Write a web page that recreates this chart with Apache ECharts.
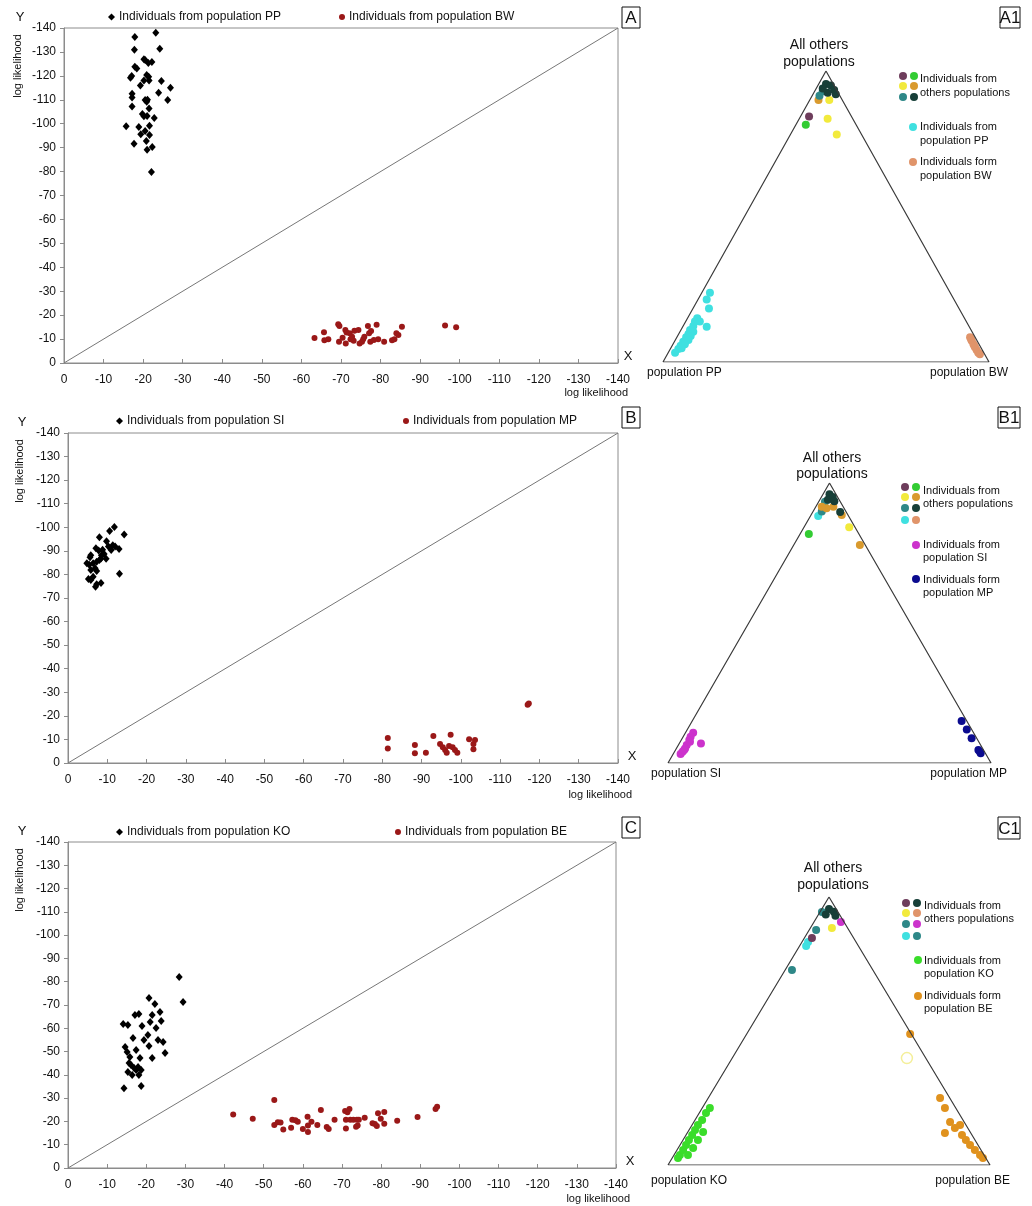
<!DOCTYPE html>
<html>
<head>
<meta charset="utf-8">
<script src="https://cdn.jsdelivr.net/npm/echarts@6/dist/echarts.min.js"></script>
<style>html,body{margin:0;background:#fff}#eCharts{width:1032px;height:1206px}</style>
</head>
<body>
<div id="eCharts"></div>
<script>
// scatter panels: [x, y] log likelihood values
var ppPoints = [[-23.2,-138.0],[-17.9,-136.2],[-24.2,-131.3],[-17.8,-130.9],[-20.2,-126.9],[-20.5,-126.6],
  [-21.3,-125.4],[-22.2,-125.8],[-17.9,-123.8],[-18.4,-123.1],[-16.8,-119.2],[-17.1,-119.9],[-20.9,-120.4],
  [-21.4,-119.6],[-20.2,-118.1],[-21.5,-118.1],[-24.6,-117.8],[-19.3,-116.0],[-26.9,-115.0],[-17.2,-112.5],
  [-17.2,-111.0],[-23.9,-112.9],[-20.5,-109.9],[-21.1,-110.0],[-20.9,-109.2],[-26.2,-109.9],[-17.2,-107.2],
  [-21.5,-106.4],[-19.8,-104.1],[-20.2,-103.1],[-21.0,-103.2],[-22.8,-102.4],[-15.7,-98.9],[-18.9,-98.6],
  [-21.6,-99.2],[-20.5,-97.0],[-19.4,-95.6],[-21.6,-95.3],[-17.7,-91.6],[-20.8,-92.8],[-21.0,-89.1],
  [-22.3,-90.3],[-22.1,-79.8]];
var bwPoints = [[-63.3,-10.4],[-65.7,-12.8],[-65.8,-9.5],[-66.8,-9.9],[-69.3,-16.2],[-69.6,-15.5],[-69.5,-8.9],
  [-70.4,-10.6],[-71.1,-13.8],[-71.4,-12.7],[-71.2,-8.2],[-72.2,-12.4],[-72.4,-9.9],[-72.8,-11.0],[-73.4,-13.5],
  [-74.4,-13.8],[-73.2,-9.3],[-74.7,-8.2],[-75.3,-8.9],[-75.6,-9.9],[-75.9,-11.0],[-76.8,-15.5],[-77.1,-12.4],
  [-77.6,-13.4],[-77.4,-8.9],[-78.3,-9.6],[-79.4,-9.9],[-79.0,-16.0],[-80.9,-8.9],[-82.9,-9.5],[-83.5,-9.9],
  [-84.0,-12.4],[-84.5,-11.7],[-85.4,-15.2],[-96.3,-15.7],[-99.1,-14.9]];
var siPoints = [[-11.8,-100.1],[-10.6,-98.4],[-14.3,-96.9],[-8.0,-95.8],[-9.8,-94.1],[-7.1,-91.1],[-7.8,-90.1],
  [-8.8,-90.5],[-10.3,-91.8],[-11.4,-92.4],[-12.0,-91.8],[-13.0,-90.8],[-11.0,-90.4],[-5.8,-88.1],[-5.6,-87.3],
  [-8.5,-88.1],[-9.7,-86.7],[-9.2,-88.7],[-4.8,-84.7],[-5.4,-84.1],[-6.4,-84.7],[-7.3,-85.4],[-8.0,-86.1],
  [-8.4,-86.8],[-5.8,-81.9],[-6.9,-82.6],[-7.3,-81.5],[-13.1,-80.3],[-5.2,-78.1],[-5.8,-77.6],[-6.4,-79.0],
  [-7.0,-74.8],[-7.3,-75.8],[-8.4,-76.4]];
var mpPoints = [[-117.0,-24.7],[-117.3,-25.2],[-81.4,-10.6],[-81.4,-6.1],[-88.3,-7.6],[-88.3,-4.1],[-91.1,-4.4],
  [-93.0,-11.5],[-97.4,-12.0],[-94.7,-8.1],[-95.4,-6.7],[-96.0,-5.5],[-96.4,-4.4],[-97.0,-7.2],[-97.9,-6.7],
  [-98.5,-5.5],[-99.1,-4.4],[-102.1,-10.1],[-103.2,-8.1],[-103.6,-9.8],[-103.2,-5.8]];
var koPoints = [[-28.4,-82.0],[-29.4,-71.3],[-20.7,-73.0],[-22.2,-70.4],[-17.1,-65.7],[-18.1,-66.1],[-21.5,-65.7],
  [-23.5,-67.0],[-14.1,-61.8],[-15.3,-61.4],[-18.9,-61.0],[-21.0,-62.7],[-22.5,-60.1],[-23.8,-63.1],[-16.6,-55.8],
  [-19.4,-55.0],[-20.4,-57.1],[-23.0,-55.0],[-24.3,-54.1],[-24.8,-49.4],[-14.6,-52.0],[-15.1,-49.8],[-15.8,-47.7],
  [-17.4,-50.7],[-18.4,-47.2],[-20.7,-52.4],[-21.5,-47.2],[-15.6,-45.1],[-16.1,-44.2],[-16.9,-42.9],[-17.4,-42.1],
  [-17.9,-43.4],[-18.7,-42.1],[-15.3,-41.2],[-16.4,-39.9],[-18.1,-39.9],[-14.3,-34.3],[-18.7,-35.2]];
var bePoints = [[-42.2,-23.0],[-47.2,-21.2],[-52.7,-29.2],[-52.7,-18.5],[-53.6,-19.6],[-54.3,-19.5],[-55.0,-16.5],
  [-57.0,-17.3],[-57.3,-20.7],[-58.1,-20.5],[-58.7,-19.9],[-60.0,-16.7],[-61.2,-22.0],[-61.3,-18.3],[-61.3,-15.5],
  [-62.2,-19.9],[-63.7,-18.5],[-64.6,-24.9],[-66.1,-17.6],[-66.6,-16.7],[-68.1,-20.7],[-70.8,-24.5],[-71.4,-23.9],
  [-71.9,-25.3],[-71.0,-20.7],[-72.1,-20.7],[-72.9,-20.7],[-73.8,-20.7],[-74.3,-20.7],[-71.0,-17.0],[-73.6,-17.7],
  [-74.0,-18.3],[-75.8,-21.6],[-77.8,-19.2],[-78.4,-18.9],[-78.9,-18.0],[-79.2,-23.5],[-80.8,-24.0],[-79.9,-21.2],
  [-80.8,-19.0],[-84.1,-20.3],[-89.3,-21.9],[-93.9,-25.3],[-94.3,-26.3]];
var axisTicks = [-140, 0, 10];  // min, max, interval

// ternary panels: [position along base, height], 0..1 inside the triangle
var a1Dark = [[0.50,0.955],[0.515,0.95],[0.525,0.935],[0.505,0.925],[0.53,0.92],[0.49,0.94]];
var a1Teal = [[0.49,0.93],[0.48,0.915]];
var a1Orange = [[0.477,0.90]];
var a1Yellow = [[0.51,0.90],[0.505,0.836],[0.533,0.782]];
var a1Purple = [[0.448,0.844]];
var a1Green = [[0.438,0.815]];
var a1PP = [[0.144,0.238],[0.134,0.215],[0.141,0.184],[0.105,0.150],[0.098,0.139],[0.093,0.124],[0.083,0.110],
  [0.078,0.096],[0.071,0.085],[0.062,0.070],[0.054,0.056],[0.047,0.045],[0.037,0.032],[0.093,0.104],[0.085,0.089],
  [0.078,0.076],[0.067,0.061],[0.057,0.047],[0.113,0.139],[0.134,0.121]];
var a1BW = [[0.942,0.085],[0.947,0.073],[0.952,0.062],[0.957,0.051],[0.962,0.041],[0.967,0.032],[0.972,0.027],
  [0.945,0.078],[0.955,0.056]];

var b1Dark = [[0.50,0.96],[0.51,0.95],[0.495,0.94],[0.515,0.935],[0.533,0.896]];
var b1Orange = [[0.512,0.915],[0.491,0.91],[0.476,0.915],[0.538,0.886],[0.594,0.779]];
var b1Teal = [[0.486,0.933],[0.476,0.898]];
var b1Cyan = [[0.465,0.882]];
var b1Yellow = [[0.561,0.842]];
var b1Green = [[0.436,0.818]];
var b1SI = [[0.078,0.108],[0.070,0.094],[0.066,0.082],[0.058,0.064],[0.053,0.052],[0.045,0.040],[0.039,0.032],
  [0.102,0.070],[0.068,0.076],[0.050,0.046]];
var b1MP = [[0.909,0.150],[0.925,0.120],[0.940,0.088],[0.961,0.046],[0.968,0.035],[0.966,0.040]];

var c1Dark = [[0.50,0.955],[0.515,0.945],[0.49,0.935],[0.52,0.93]];
var c1Teal = [[0.478,0.944],[0.46,0.877],[0.385,0.728]];
var c1Magenta = [[0.537,0.907]];
var c1Yellow = [[0.509,0.884]];
var c1Purple = [[0.447,0.847]];
var c1Cyan = [[0.435,0.832],[0.429,0.817]];
var c1KO = [[0.031,0.026],[0.037,0.037],[0.047,0.056],[0.056,0.075],[0.065,0.093],[0.075,0.112],[0.084,0.131],
  [0.093,0.149],[0.106,0.168],[0.118,0.194],[0.130,0.213],[0.062,0.037],[0.078,0.063],[0.093,0.093],[0.109,0.123]];
var c1BE = [[0.752,0.489],[0.845,0.25],[0.860,0.213],[0.876,0.160],[0.891,0.138],[0.907,0.149],[0.913,0.112],
  [0.925,0.093],[0.938,0.075],[0.953,0.056],[0.969,0.037],[0.978,0.026],[0.860,0.119]];
var c1Hollow = [[0.742,0.399]];
var triangle = [[0,0],[0.5,1],[1,0],[0,0]];

var FONT = '"Liberation Sans", Arial, sans-serif';
var C = {purple:'#6e3d5c', green:'#33cc33', yellow:'#f2ea3c', orange:'#d99a2e', teal:'#2e8888',
  dark:'#173f38', cyan:'#3fe0e0', salmon:'#e0946a', magenta:'#cc33cc', blue:'#0b0b8f',
  beOrange:'#e0921e', koGreen:'#3add2a'};

var myChart = echarts.init(document.getElementById('eCharts'));

var grids = [
  {left:64, top:28, width:554, height:335},
  {left:68, top:433, width:550, height:330},
  {left:68, top:842, width:548, height:326},
  {left:663, top:71, width:326, height:291},
  {left:668, top:483, width:323, height:280},
  {left:668, top:897, width:322, height:268}
];

var xAxes = [], yAxes = [];
grids.forEach(function (g, i) {
  if (i < 3) {
    g.show = true; g.borderColor = '#8c8c8c'; g.borderWidth = 1;
    xAxes.push({gridIndex:i, type:'value', min:axisTicks[0], max:axisTicks[1], interval:axisTicks[2], inverse:true,
      axisLine:{onZero:false, lineStyle:{color:'#8c8c8c'}},
      axisTick:{inside:true, length:4, lineStyle:{color:'#8c8c8c'}},
      axisLabel:{color:'#111', fontSize:12, fontFamily:FONT, margin:11},
      splitLine:{show:false}});
    yAxes.push({gridIndex:i, type:'value', min:axisTicks[0], max:axisTicks[1], interval:axisTicks[2], inverse:true,
      axisLine:{onZero:false, lineStyle:{color:'#8c8c8c'}},
      axisTick:{length:4, lineStyle:{color:'#8c8c8c'}},
      axisLabel:{color:'#111', fontSize:12, fontFamily:FONT, margin:8},
      splitLine:{show:false}});
  } else {
    xAxes.push({gridIndex:i, type:'value', min:0, max:1, show:false});
    yAxes.push({gridIndex:i, type:'value', min:0, max:1, show:false});
  }
});

var series = [];
function diag(gi) {
  series.push({type:'line', xAxisIndex:gi, yAxisIndex:gi, data:[[0,0],[-140,-140]], symbol:'none',
    silent:true, lineStyle:{color:'#777', width:1}});
}
function blackSet(gi, name, data) {
  series.push({name:name, type:'scatter', xAxisIndex:gi, yAxisIndex:gi, data:data, symbol:'diamond',
    symbolSize:[7,8], itemStyle:{color:'#000', opacity:1}});
}
function redSet(gi, name, data) {
  series.push({name:name, type:'scatter', xAxisIndex:gi, yAxisIndex:gi, data:data, symbol:'circle',
    symbolSize:6, itemStyle:{color:'#9a1818', opacity:1}});
}
function tri(gi) {
  series.push({type:'line', xAxisIndex:gi, yAxisIndex:gi, data:triangle, symbol:'none', silent:true,
    lineStyle:{color:'#3a3a3a', width:1.2}});
}
function dots(gi, data, color, size) {
  series.push({type:'scatter', xAxisIndex:gi, yAxisIndex:gi, data:data, symbolSize:size || 8, silent:true,
    itemStyle:{color:color, opacity:1}});
}

diag(0); blackSet(0, 'Individuals from population PP', ppPoints); redSet(0, 'Individuals from population BW', bwPoints);
diag(1); blackSet(1, 'Individuals from population SI', siPoints); redSet(1, 'Individuals from population MP', mpPoints);
diag(2); blackSet(2, 'Individuals from population KO', koPoints); redSet(2, 'Individuals from population BE', bePoints);

tri(3);
dots(3, a1PP, C.cyan); dots(3, a1BW, C.salmon);
dots(3, a1Purple, C.purple); dots(3, a1Green, C.green); dots(3, a1Yellow, C.yellow);
dots(3, a1Orange, C.orange); dots(3, a1Teal, C.teal); dots(3, a1Dark, C.dark);

tri(4);
dots(4, b1SI, C.magenta); dots(4, b1MP, C.blue);
dots(4, b1Green, C.green); dots(4, b1Yellow, C.yellow); dots(4, b1Cyan, C.cyan);
dots(4, b1Teal, C.teal); dots(4, b1Orange, C.orange); dots(4, b1Dark, C.dark);

tri(5);
dots(5, c1KO, C.koGreen); dots(5, c1BE, C.beOrange);
series.push({type:'scatter', xAxisIndex:5, yAxisIndex:5, data:c1Hollow, symbolSize:11, silent:true,
  itemStyle:{color:'#fff', borderColor:'#f4ef9a', borderWidth:1.5, opacity:1}});
dots(5, c1Teal, C.teal); dots(5, c1Cyan, C.cyan); dots(5, c1Purple, C.purple);
dots(5, c1Yellow, C.yellow); dots(5, c1Magenta, C.magenta); dots(5, c1Dark, C.dark);

function legendAt(name, left, top, icon) {
  return {data:[{name:name, icon:icon}], left:left, top:top, itemWidth:icon === 'diamond' ? 7 : 6,
    itemHeight:icon === 'diamond' ? 7 : 6, itemGap:4, selectedMode:false,
    itemStyle:{opacity:1},
    textStyle:{color:'#111', fontSize:12, fontFamily:FONT, padding:[0,0,0,-1]}};
}
var legends = [
  legendAt('Individuals from population PP', 103, 6, 'diamond'),
  legendAt('Individuals from population BW', 334, 6, 'circle'),
  legendAt('Individuals from population SI', 111, 410, 'diamond'),
  legendAt('Individuals from population MP', 398, 410, 'circle'),
  legendAt('Individuals from population KO', 111, 821, 'diamond'),
  legendAt('Individuals from population BE', 390, 821, 'circle')
];

var graphics = [];
function txt(x, y, s, o) {
  o = o || {};
  graphics.push({type:'text', x:x, y:y, rotation:o.rot || 0, style:{text:s, fill:'#111',
    font:(o.size || 12) + 'px ' + FONT, textAlign:o.align || 'left', textVerticalAlign:'middle'}});
}
function box(x, y, w, h, s) {
  graphics.push({type:'rect', shape:{x:x, y:y, width:w, height:h}, style:{fill:'#fff', stroke:'#111', lineWidth:1}});
  txt(x + w / 2, y + h / 2 + 1, s, {size:17, align:'center'});
}
function dot(x, y, color) {
  graphics.push({type:'circle', shape:{cx:x, cy:y, r:4}, style:{fill:color}});
}

// axis captions for the three scatter panels
[[18, 28, 363, 628, 393], [20, 433, 763, 632, 795], [20, 842, 1168, 630, 1199]].forEach(function (p) {
  txt(p[0] + 2, p[1] - 11, 'Y', {size:13, align:'center'});
  txt(p[0], p[1] + 38, 'log likelihood', {size:11, align:'center', rot:Math.PI / 2});
  txt(p[3], p[2] - 7, 'X', {size:13, align:'center'});
  txt(p[3], p[4], 'log likelihood', {size:11, align:'right'});
});
box(622, 7, 18, 21, 'A');
box(622, 407, 18, 21, 'B');
box(622, 817, 18, 21, 'C');
box(1000, 7, 20, 21, 'A1');
box(998, 407, 22, 21, 'B1');
box(998, 817, 22, 22, 'C1');

// ternary captions and keys
txt(819, 45, 'All others', {size:14, align:'center'});
txt(819, 62, 'populations', {size:14, align:'center'});
txt(647, 373, 'population PP', {size:12});
txt(1008, 373, 'population BW', {size:12, align:'right'});
[[903, 76, C.purple], [914, 76, C.green], [903, 86, C.yellow], [914, 86, C.orange], [903, 97, C.teal], [914, 97, C.dark],
 [913, 127, C.cyan], [913, 162, C.salmon]].forEach(function (d) { dot(d[0], d[1], d[2]); });
txt(920, 79, 'Individuals from', {size:11}); txt(920, 93, 'others populations', {size:11});
txt(920, 127, 'Individuals from', {size:11}); txt(920, 141, 'population PP', {size:11});
txt(920, 162, 'Individuals form', {size:11}); txt(920, 176, 'population BW', {size:11});

txt(832, 458, 'All others', {size:14, align:'center'});
txt(832, 474, 'populations', {size:14, align:'center'});
txt(651, 774, 'population SI', {size:12});
txt(1007, 774, 'population MP', {size:12, align:'right'});
[[905, 487, C.purple], [916, 487, C.green], [905, 497, C.yellow], [916, 497, C.orange], [905, 508, C.teal], [916, 508, C.dark],
 [905, 520, C.cyan], [916, 520, C.salmon], [916, 545, C.magenta], [916, 579, C.blue]].forEach(function (d) { dot(d[0], d[1], d[2]); });
txt(923, 491, 'Individuals from', {size:11}); txt(923, 504, 'others populations', {size:11});
txt(923, 545, 'Individuals from', {size:11}); txt(923, 558, 'population SI', {size:11});
txt(923, 580, 'Individuals form', {size:11}); txt(923, 593, 'population MP', {size:11});

txt(833, 868, 'All others', {size:14, align:'center'});
txt(833, 885, 'populations', {size:14, align:'center'});
txt(651, 1181, 'population KO', {size:12});
txt(1010, 1181, 'population BE', {size:12, align:'right'});
[[906, 903, C.purple], [917, 903, C.dark], [906, 913, C.yellow], [917, 913, C.salmon], [906, 924, C.teal], [917, 924, C.magenta],
 [906, 936, C.cyan], [917, 936, C.teal], [918, 960, C.koGreen], [918, 996, C.beOrange]].forEach(function (d) { dot(d[0], d[1], d[2]); });
txt(924, 906, 'Individuals from', {size:11}); txt(924, 919, 'others populations', {size:11});
txt(924, 961, 'Individuals from', {size:11}); txt(924, 974, 'population KO', {size:11});
txt(924, 996, 'Individuals form', {size:11}); txt(924, 1009, 'population BE', {size:11});

option = {
  backgroundColor:'#fff',
  animation:false,
  textStyle:{fontFamily:FONT},
  grid:grids,
  xAxis:xAxes,
  yAxis:yAxes,
  legend:legends,
  series:series,
  graphic:graphics
};
myChart.setOption(option);
</script>
</body>
</html>
